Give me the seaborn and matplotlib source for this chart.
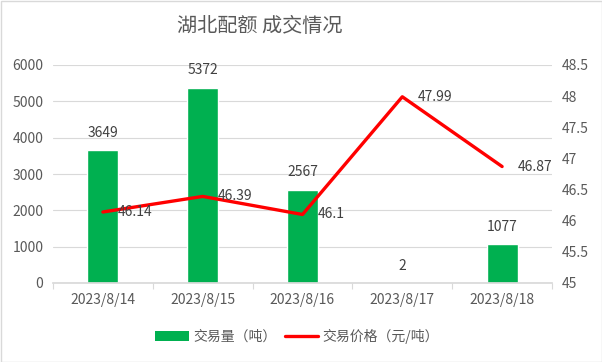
import matplotlib
matplotlib.use("Agg")
import matplotlib.pyplot as plt
import seaborn as sns
import pandas as pd
from matplotlib.patches import Rectangle, Patch
from matplotlib.lines import Line2D

categories = ["2023/8/14", "2023/8/15", "2023/8/16", "2023/8/17", "2023/8/18"]
volume = [3649, 5372, 2567, 2, 1077]
price = [46.14, 46.39, 46.1, 47.99, 46.87]
title = "湖北配额 成交情况"
bar_label = "交易量（吨）"
line_label = "交易价格（元/吨）"

sns.set_theme(style="white")
plt.rcParams['font.family'] = ['Noto Sans CJK SC', 'DejaVu Sans']

df = pd.DataFrame({"date": categories, "volume": volume, "price": price})

fig = plt.figure(figsize=(6.02, 3.62), dpi=100)
ax = fig.add_axes([53/602, 1-283/362, (552-53)/602, (283-65)/362])

green = "#00B050"
red = "#FF0000"
txt = "#595959"
lab = "#404040"

sns.barplot(data=df, x="date", y="volume", color=green, width=0.31, ax=ax, saturation=1)
ax.set_ylim(0, 6000)
ax.set_yticks(range(0, 6001, 1000))
ax.set_xlim(-0.5, 4.5)
ax.set_xlabel("")
ax.set_ylabel("")
ax.yaxis.grid(True, color="#D9D9D9", linewidth=0.8)
ax.set_axisbelow(True)
for s in ["top", "right", "left"]:
    ax.spines[s].set_visible(False)
ax.spines["bottom"].set_color("#D9D9D9")
ax.tick_params(axis="y", length=0, labelsize=10, labelcolor=txt, pad=7)
ax.tick_params(axis="x", which="major", length=0, labelsize=10, labelcolor=txt, pad=7)
ax.set_xticks([-0.5, 0.5, 1.5, 2.5, 3.5, 4.5], minor=True)
ax.tick_params(axis="x", which="minor", length=4, color="#D9D9D9", width=0.8, direction="out", bottom=True)
for i, v in enumerate(volume):
    ax.annotate(str(v), (i, v), xytext=(0, 12.5), textcoords="offset points",
                ha="center", va="center", fontsize=10, color=lab)

ax2 = ax.twinx()
sns.lineplot(data=df, x="date", y="price", color=red, linewidth=2.4, ax=ax2, sort=False)
ax2.set_ylim(45, 48.5)
ax2.set_yticks([45, 45.5, 46, 46.5, 47, 47.5, 48, 48.5])
ax2.set_yticklabels(["45", "45.5", "46", "46.5", "47", "47.5", "48", "48.5"])
ax2.set_xlim(-0.5, 4.5)
ax2.set_ylabel("")
ax2.set_xlabel("")
for s in ["top", "right", "left", "bottom"]:
    ax2.spines[s].set_visible(False)
ax2.tick_params(axis="y", length=0, labelsize=10, labelcolor=txt, pad=7)
for i, v in enumerate(price):
    ax2.annotate(f"{v:g}", (i, v), xytext=(11, 0), textcoords="offset points",
                 ha="left", va="center", fontsize=10, color=lab)

fig.text(260/602, 1 - 27/362, title, ha="center", va="center", fontsize=14.5, color=txt)

handles = [Patch(facecolor=green, edgecolor="none"),
           Line2D([0], [0], color=red, linewidth=2.4)]
fig.legend(handles, [bar_label, line_label], loc="center", bbox_to_anchor=(297/602, 1 - 336/362),
           ncol=2, frameon=False, fontsize=10, labelcolor=txt, handlelength=2.4,
           handletextpad=0.3, columnspacing=0.6)

fig.patches.append(Rectangle((0.5/602, 0.5/362), 1 - 1/602, 1 - 1/362, transform=fig.transFigure,
                             fill=False, edgecolor="#D9D9D9", linewidth=1))

fig.savefig("out.png", dpi=100)
